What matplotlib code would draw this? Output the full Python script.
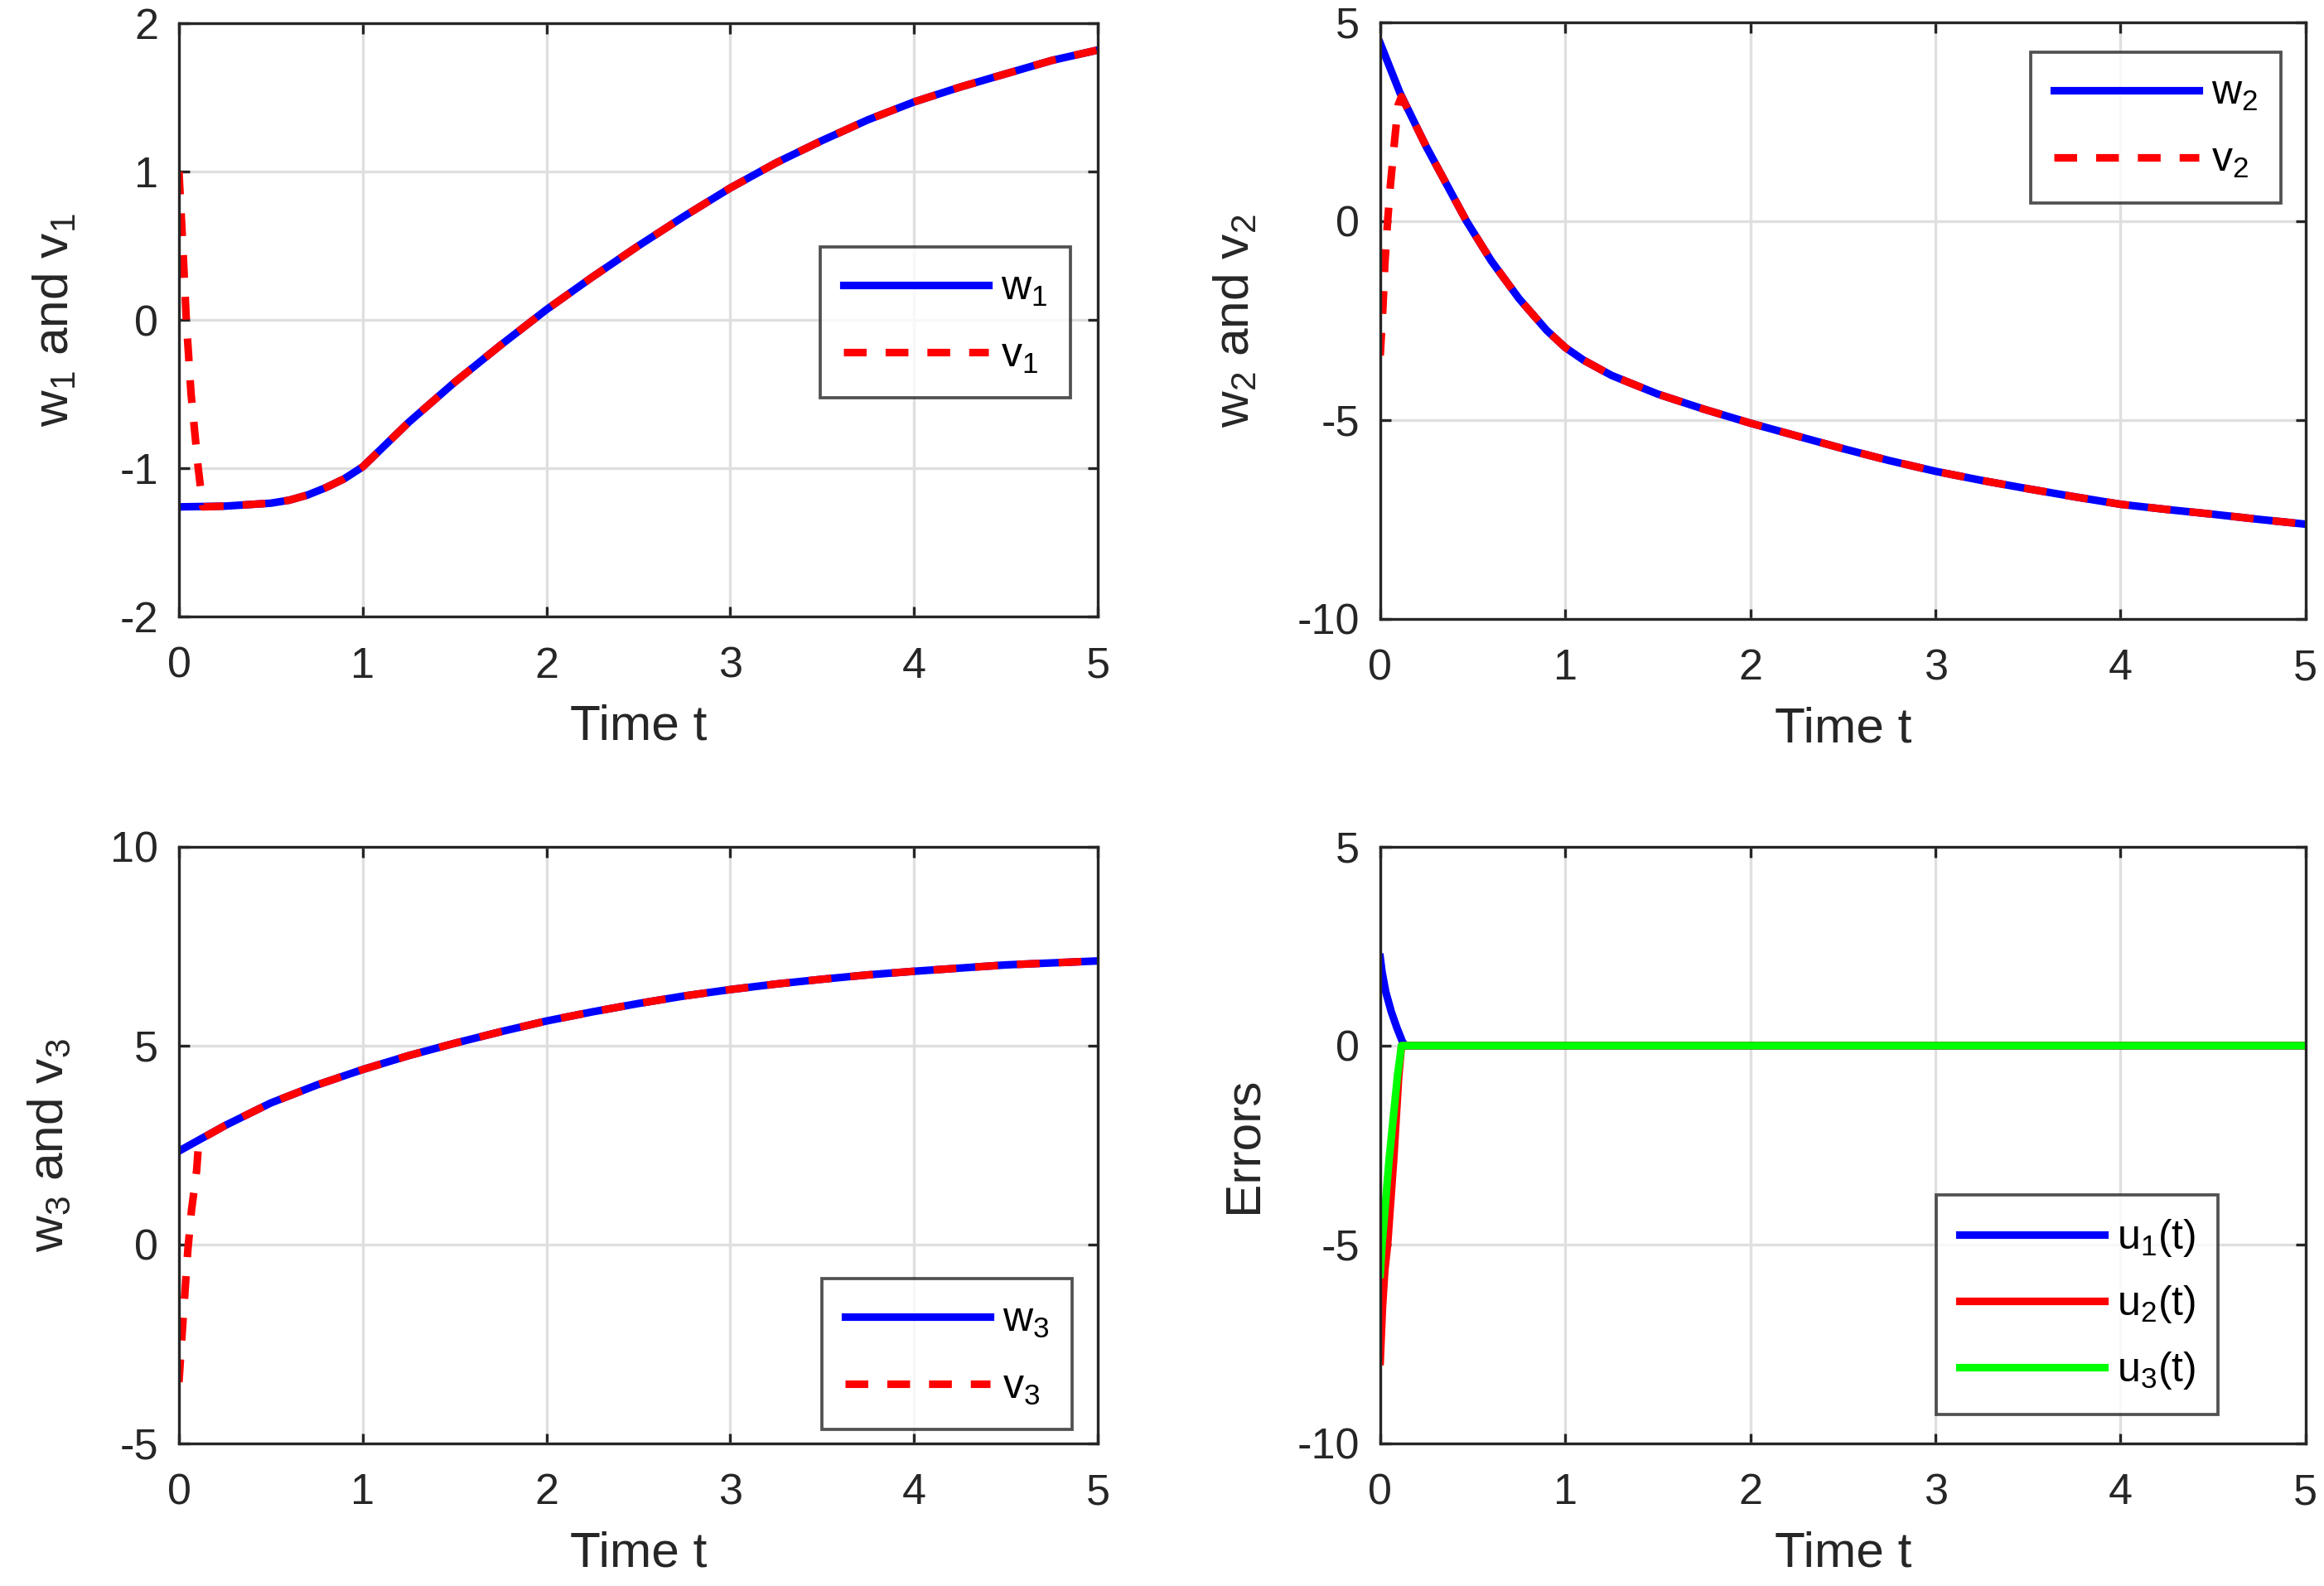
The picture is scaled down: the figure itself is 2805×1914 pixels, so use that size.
import numpy as np
import matplotlib
matplotlib.use("Agg")
import matplotlib.pyplot as plt

plt.rcParams['font.family'] = ['Liberation Sans', 'DejaVu Sans']
plt.rcParams['mathtext.default'] = 'regular'
plt.rcParams['axes.unicode_minus'] = False

# time grids
t_a = [0, 0.25, 0.5, 0.6, 0.7, 0.8, 0.9, 1.0, 1.1, 1.25, 1.5, 1.75, 2.0, 2.25, 2.5,
       2.75, 3.0, 3.25, 3.5, 3.75, 4.0, 4.25, 4.5, 4.75, 5.0]
t_b = [0, 0.107, 0.25, 0.466, 0.6, 0.75, 0.9, 1.0, 1.1, 1.25, 1.5, 1.75, 2.0, 2.25,
       2.5, 2.75, 3.0, 3.25, 3.5, 3.75, 4.0, 4.25, 4.5, 4.75, 5.0]
t_c = [0, 0.25, 0.5, 0.75, 1.0, 1.25, 1.5, 1.75, 2.0, 2.25, 2.5, 2.75, 3.0, 3.25,
       3.5, 3.75, 4.0, 4.25, 4.5, 4.75, 5.0]

w1 = [-1.26, -1.255, -1.235, -1.215, -1.18, -1.13, -1.07, -0.99, -0.87, -0.69,
      -0.42, -0.17, 0.07, 0.29, 0.50, 0.70, 0.89, 1.06, 1.21, 1.35, 1.47, 1.57,
      1.66, 1.75, 1.82]
w2 = [4.47, 3.22, 1.86, 0.0, -1.0, -1.95, -2.75, -3.18, -3.5, -3.88, -4.35, -4.73,
      -5.08, -5.4, -5.72, -6.02, -6.29, -6.52, -6.73, -6.93, -7.12, -7.25, -7.37,
      -7.5, -7.62]
w3 = [2.35, 2.99, 3.56, 4.01, 4.4, 4.75, 5.06, 5.35, 5.62, 5.85, 6.06, 6.25, 6.41,
      6.55, 6.67, 6.78, 6.87, 6.95, 7.03, 7.08, 7.13]

# response system: short transient, then it sits on the drive curve
v1_head_t = [0, 0.021, 0.04, 0.066, 0.105, 0.13]
v1_head = [1.0, 0.5, 0.0, -0.5, -1.0, -1.26]
v2_head_t = [0, 0.015, 0.025, 0.04, 0.055, 0.075, 0.097, 0.115]
v2_head = [-3.38, -2.13, -1.08, 0.0, 0.9, 1.9, 2.92, 3.13]
v3_head_t = [0, 0.018, 0.033, 0.048, 0.068, 0.096, 0.108]
v3_head = [-3.46, -2.19, -1.17, -0.16, 0.85, 1.85, 2.62]

# errors
u1_t = [0, 0.01, 0.03, 0.06, 0.09, 0.12, 0.135, 5.0]
u1 = [2.22, 1.85, 1.35, 0.85, 0.45, 0.1, 0.0, 0.0]
u2_t = [0, 0.012, 0.025, 0.04, 0.073, 0.1, 0.115, 5.0]
u2 = [-7.94, -6.6, -5.64, -5.0, -2.86, -0.77, 0.0, 0.0]
u3_t = [0, 0.01, 0.048, 0.093, 0.115, 5.0]
u3 = [-5.75, -5.0, -2.86, -0.77, 0.0, 0.0]


def join(head_t, head, t, w):
    t = np.asarray(t)
    w = np.asarray(w)
    m = t > head_t[-1]
    return np.concatenate([head_t, t[m]]), np.concatenate([head, w[m]])


AX_C = '#262626'
DASH = (0, (3.0, 2.5))
LW = 2.2


def style(ax, ylim, yticks, ylabel, lpad=9):
    ax.set_xlim(0, 5)
    ax.set_ylim(*ylim)
    ax.set_xticks([0, 1, 2, 3, 4, 5])
    ax.set_yticks(yticks)
    ax.grid(True, color='#dfdfdf', lw=0.8)
    ax.set_axisbelow(True)
    for s in ax.spines.values():
        s.set_color(AX_C)
        s.set_linewidth(0.8)
    ax.tick_params(direction='in', top=True, right=True, length=3, width=0.8,
                   colors=AX_C, labelsize=12.5)
    ax.tick_params(axis='x', pad=8.5)
    ax.tick_params(axis='y', pad=6)
    ax.set_xlabel('Time t', fontsize=14.5, color=AX_C, labelpad=5)
    ax.set_ylabel(ylabel, fontsize=14.5, color=AX_C, labelpad=lpad)


def legend(ax, x0, y1, spacing=0.7):
    leg = ax.legend(loc='upper left', bbox_to_anchor=(x0, y1), borderaxespad=0,
                    fontsize=12, handlelength=3.5, handletextpad=0.3,
                    labelspacing=spacing, borderpad=0.55, fancybox=False)
    leg.get_frame().set_edgecolor(AX_C)
    leg.get_frame().set_linewidth(0.9)
    return leg


fig = plt.figure(figsize=(9.35, 6.38), dpi=300)
ax1 = fig.add_axes([0.0770, 0.6112, 0.3954, 0.3741])
ax2 = fig.add_axes([0.5939, 0.6098, 0.3982, 0.3762])
ax3 = fig.add_axes([0.0770, 0.0899, 0.3954, 0.3762])
ax4 = fig.add_axes([0.5939, 0.0899, 0.3982, 0.3762])

# w1 / v1
tv, vv = join(v1_head_t, v1_head, t_a, w1)
ax1.plot(t_a, w1, color='blue', lw=LW, label='w$_1$')
ax1.plot(tv, vv, color='red', lw=LW, ls=DASH, label='v$_1$')
style(ax1, (-2, 2), [-2, -1, 0, 1, 2], 'w$_1$ and v$_1$', lpad=12)
legend(ax1, 0.698, 0.623)

# w2 / v2
tv, vv = join(v2_head_t, v2_head, t_b, w2)
ax2.plot(t_b, w2, color='blue', lw=LW, label='w$_2$')
ax2.plot(tv, vv, color='red', lw=LW, ls=DASH, label='v$_2$')
style(ax2, (-10, 5), [-10, -5, 0, 5], 'w$_2$ and v$_2$', lpad=11)
legend(ax2, 0.703, 0.95)

# w3 / v3
tv, vv = join(v3_head_t, v3_head, t_c, w3)
ax3.plot(t_c, w3, color='blue', lw=LW, label='w$_3$')
ax3.plot(tv, vv, color='red', lw=LW, ls=DASH, label='v$_3$')
style(ax3, (-5, 10), [-5, 0, 5, 10], 'w$_3$ and v$_3$', lpad=11)
legend(ax3, 0.70, 0.276)

# errors
ax4.plot(u1_t, u1, color='blue', lw=LW, label='u$_1$(t)')
ax4.plot(u2_t, u2, color='red', lw=LW, label='u$_2$(t)')
ax4.plot(u3_t, u3, color=(0, 1, 0), lw=LW, label='u$_3$(t)')
style(ax4, (-10, 5), [-10, -5, 0, 5], 'Errors')
legend(ax4, 0.601, 0.417, spacing=0.6)

fig.savefig('out.png', dpi=300)
